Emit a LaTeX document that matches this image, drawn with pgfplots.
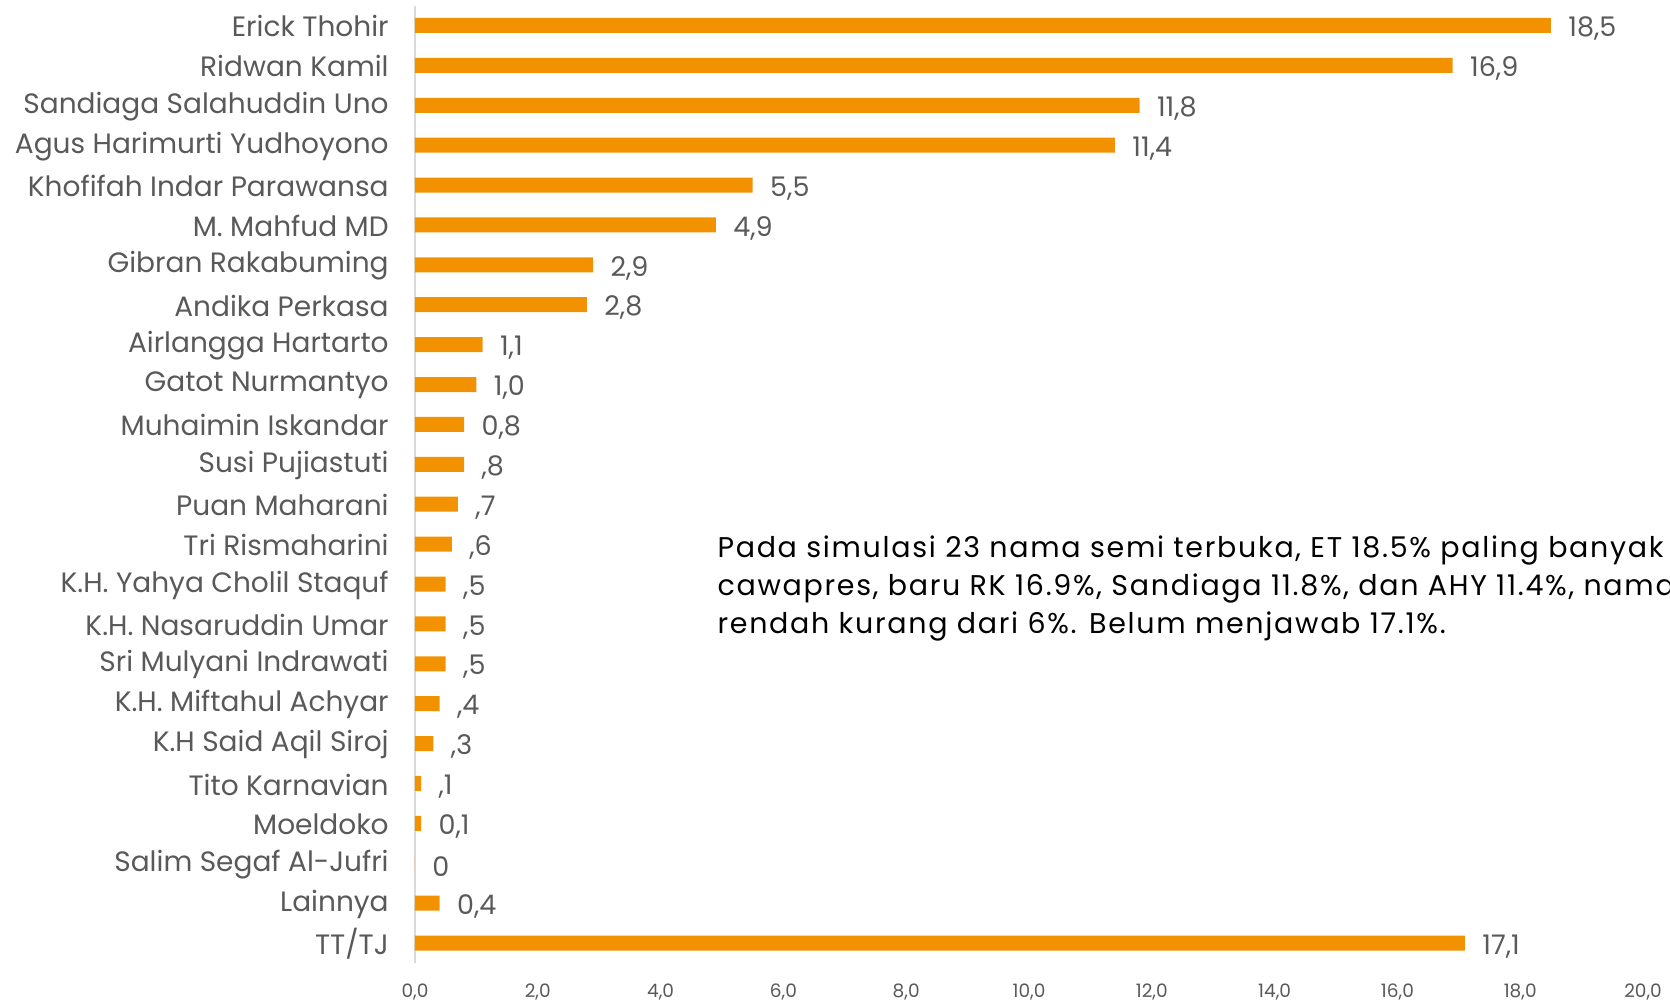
\documentclass[border=0pt]{standalone}
\usepackage{pgfplots}
\pgfplotsset{compat=1.18}
\usepackage{pgfplotstable}
\usepackage{fontspec}
\setmainfont{Poppins}
\newfontfamily\annfont[LetterSpace=6]{Poppins}
\definecolor{barorange}{HTML}{F39200}
\definecolor{txtgray}{HTML}{595959}
\definecolor{axgray}{HTML}{D9D9D9}
\pgfplotstableread{
y val lab
0 18.5 18,5
1 16.9 16,9
2 11.8 11,8
3 11.4 11,4
4 5.5 5,5
5 4.9 4,9
6 2.9 2,9
7 2.8 2,8
8 1.1 1,1
9 1.0 1,0
10 0.8 0,8
11 0.8 ,8
12 0.7 ,7
13 0.6 ,6
14 0.5 ,5
15 0.5 ,5
16 0.5 ,5
17 0.4 ,4
18 0.3 ,3
19 0.1 ,1
20 0.1 0,1
21 0 0
22 0.4 0,4
23 17.1 17,1
}\datatable
\begin{document}
\begin{tikzpicture}
\path[use as bounding box] (-166pt,-17.2pt) rectangle (502pt,385.2pt);
\clip (-166pt,-17.2pt) rectangle (502pt,385.2pt);
\begin{axis}[
  at={(0,0)}, anchor=south west,
  scale only axis,
  width=491.2pt, height=383pt,
  xbar, bar width=6pt,
  xmin=0, xmax=20,
  ymin=-0.5, ymax=23.5,
  y dir=reverse,
  clip=false,
  axis x line=bottom, axis y line=left,
  axis line style={-},
  x axis line style={draw=none},
  y axis line style={draw=axgray, line width=0.8pt},
  tick style={draw=none},
  xtick={0,2,...,20},
  xticklabels={{0,0},{2,0},{4,0},{6,0},{8,0},{10,0},{12,0},{14,0},{16,0},{18,0},{20,0}},
  x tick label style={font=\fontsize{7.4pt}{9pt}\selectfont, text=txtgray, anchor=base, inner sep=0pt, yshift=-11.7pt},
  ytick={0,...,23},
  yticklabels={Erick Thohir,Ridwan Kamil,Sandiaga Salahuddin Uno,Agus Harimurti Yudhoyono,Khofifah Indar Parawansa,M. Mahfud MD,Gibran Rakabuming,Andika Perkasa,Airlangga Hartarto,Gatot Nurmantyo,Muhaimin Iskandar,Susi Pujiastuti,Puan Maharani,Tri Rismaharini,K.H. Yahya Cholil Staquf,K.H. Nasaruddin Umar,Sri Mulyani Indrawati,K.H. Miftahul Achyar,K.H Said Aqil Siroj,Tito Karnavian,Moeldoko,Salim Segaf Al-Jufri,Lainnya,TT/TJ},
  y tick label style={font=\fontsize{11.2pt}{13pt}\selectfont, text=txtgray, anchor=east, inner sep=0pt, xshift=-8.2pt, yshift=-0.4pt},
  /pgf/number format/assume math mode=true,
  nodes near coords={\pgfplotspointmeta},
  point meta=explicit symbolic,
  nodes near coords style={font=\fontsize{10.8pt}{12pt}\selectfont, text=txtgray, anchor=west, inner sep=0pt, xshift=6.8pt, yshift=-1.3pt},
]
\addplot[fill=barorange, draw=none] table[x=val, y=y, meta=lab] {\datatable};
\coordinate (ann) at (axis cs:4.92,14.03);
\end{axis}
\node[anchor=west, align=left, inner sep=0pt, text=black, font=\annfont\fontsize{11.4pt}{15.2pt}\selectfont, yshift=-1.2pt] at (ann)
  {Pada simulasi 23 nama semi terbuka, ET 18.5\% paling banyak dipilih sebagai\\
   cawapres, baru RK 16.9\%, Sandiaga 11.8\%, dan AHY 11.4\%, nama lainnya masih\\
   rendah kurang dari 6\%. Belum menjawab 17.1\%.};
\end{tikzpicture}
\end{document}
